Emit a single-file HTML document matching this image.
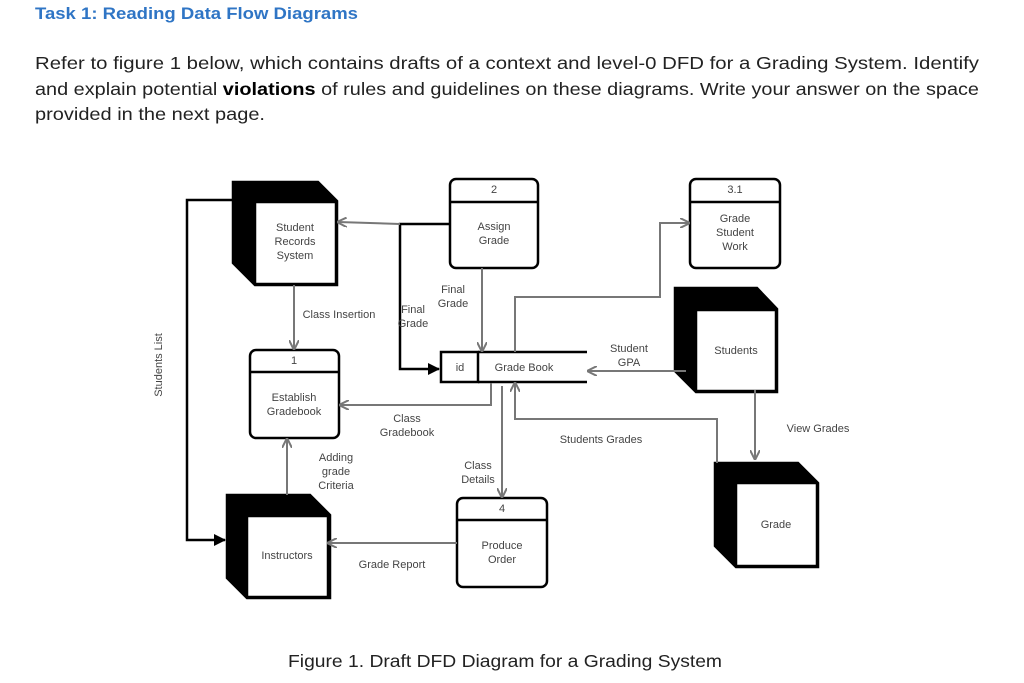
<!DOCTYPE html>
<html><head><meta charset="utf-8"><style>
html,body{margin:0;padding:0;background:#fff;width:1024px;height:683px;overflow:hidden}
svg{display:block}
.t{font-family:"Liberation Sans",sans-serif;fill:#222}
.d{font-family:"Liberation Sans",sans-serif;font-size:11px;fill:#444;text-anchor:middle}
</style></head><body>
<svg width="1024" height="683" viewBox="0 0 1024 683" xmlns="http://www.w3.org/2000/svg">
<defs>
<marker id="ag" markerWidth="10" markerHeight="10" refX="9" refY="5" orient="auto" markerUnits="userSpaceOnUse"><path d="M0,0 L10,5 L0,10" fill="none" stroke="#777" stroke-width="2"/></marker>
<marker id="ab" markerWidth="12" markerHeight="12" refX="11" refY="6" orient="auto" markerUnits="userSpaceOnUse"><path d="M0,0 L12,6 L0,12 Z" fill="#000"/></marker>
</defs>
<text class="t" x="35" y="19" font-size="17" font-weight="bold" style="fill:#2f75c5" textLength="323" lengthAdjust="spacingAndGlyphs">Task 1: Reading Data Flow Diagrams</text>
<text class="t" x="35" y="69" font-size="17.5" textLength="944" lengthAdjust="spacingAndGlyphs">Refer to figure 1 below, which contains drafts of a context and level-0 DFD for a Grading System. Identify</text>
<text class="t" x="35" y="95" font-size="17.5" textLength="944" lengthAdjust="spacingAndGlyphs">and explain potential <tspan font-weight="bold" fill="#000">violations</tspan> of rules and guidelines on these diagrams. Write your answer on the space</text>
<text class="t" x="35" y="120" font-size="17.5" textLength="230" lengthAdjust="spacingAndGlyphs">provided in the next page.</text>
<text class="t" x="288" y="667" font-size="17.5" textLength="434" lengthAdjust="spacingAndGlyphs">Figure 1. Draft DFD Diagram for a Grading System</text>

<g stroke="#000" stroke-width="2.5">
<path d="M233,182 L318,182 L337,201 L337,285 L255,285 L233,263 Z" fill="#000"/>
<rect x="255" y="202" width="81" height="82" fill="#fff"/>
<path d="M227,495 L310,495 L330,515 L330,598 L247,598 L227,578 Z" fill="#000"/>
<rect x="247" y="516" width="81" height="81" fill="#fff"/>
<path d="M675,288 L757,288 L777,309 L777,392 L696,392 L675,371 Z" fill="#000"/>
<rect x="696" y="310" width="80" height="81" fill="#fff"/>
<path d="M715,463 L798,463 L818,483 L818,567 L736,567 L715,546 Z" fill="#000"/>
<rect x="736" y="483" width="81" height="83" fill="#fff"/>
</g>
<g stroke="#000" stroke-width="2.5" fill="#fff">
<rect x="450" y="179" width="88" height="89" rx="6"/><line x1="450" y1="202" x2="538" y2="202"/>
<rect x="250" y="350" width="89" height="88" rx="6"/><line x1="250" y1="372" x2="339" y2="372"/>
<rect x="457" y="498" width="90" height="89" rx="6"/><line x1="457" y1="520" x2="547" y2="520"/>
<rect x="690" y="179" width="90" height="89" rx="6"/><line x1="690" y1="202" x2="780" y2="202"/>
</g>
<g stroke="#000" stroke-width="2.5" fill="none">
<rect x="441" y="352" width="37" height="30" fill="#fff"/>
<line x1="478" y1="352" x2="587" y2="352"/>
<line x1="478" y1="382" x2="587" y2="382"/>
</g>
<g stroke="#000" stroke-width="2.5" fill="none">
<path d="M232,200 L187,200 L187,540 L225,540" marker-end="url(#ab)"/>
<path d="M450,224 L400,224 L400,369 L439,369" marker-end="url(#ab)"/>
</g>
<g stroke="#777" stroke-width="2" fill="none">
<path d="M400,224 L338,222" marker-end="url(#ag)"/>
<path d="M482,268 L482,351" marker-end="url(#ag)"/>
<path d="M294,285 L294,349" marker-end="url(#ag)"/>
<path d="M491,383 L491,405 L340,405" marker-end="url(#ag)"/>
<path d="M502,386 L502,497" marker-end="url(#ag)"/>
<path d="M287,495 L287,439" marker-end="url(#ag)"/>
<path d="M457,543 L328,543" marker-end="url(#ag)"/>
<path d="M515,352 L515,297 L660,297 L660,223 L689,223" marker-end="url(#ag)"/>
<path d="M686,371 L588,371" marker-end="url(#ag)"/>
<path d="M717,463 L717,419 L515,419 L515,383" marker-end="url(#ag)"/>
<path d="M755,390 L755,459" marker-end="url(#ag)"/>
</g>
<g class="d">
<text x="295" y="231">Student</text><text x="295" y="245">Records</text><text x="295" y="259">System</text>
<text x="494" y="193">2</text><text x="494" y="230">Assign</text><text x="494" y="244">Grade</text>
<text x="294" y="364">1</text><text x="294" y="401">Establish</text><text x="294" y="415">Gradebook</text>
<text x="502" y="512">4</text><text x="502" y="549">Produce</text><text x="502" y="563">Order</text>
<text x="735" y="193">3.1</text><text x="735" y="222">Grade</text><text x="735" y="236">Student</text><text x="735" y="250">Work</text>
<text x="736" y="354">Students</text>
<text x="776" y="528">Grade</text>
<text x="287" y="559">Instructors</text>
<text x="460" y="371">id</text>
<text x="524" y="371">Grade Book</text>
<text x="339" y="318">Class Insertion</text>
<text x="453" y="293">Final</text><text x="453" y="307">Grade</text>
<text x="413" y="313">Final</text><text x="413" y="327">Grade</text>
<text x="407" y="422">Class</text><text x="407" y="436">Gradebook</text>
<text x="478" y="469">Class</text><text x="478" y="483">Details</text>
<text x="336" y="461">Adding</text><text x="336" y="475">grade</text><text x="336" y="489">Criteria</text>
<text x="392" y="568">Grade Report</text>
<text x="629" y="352">Student</text><text x="629" y="366">GPA</text>
<text x="601" y="443">Students Grades</text>
<text x="818" y="432">View Grades</text>
<text transform="translate(162,365) rotate(-90)">Students List</text>
</g>
</svg>
</body></html>
